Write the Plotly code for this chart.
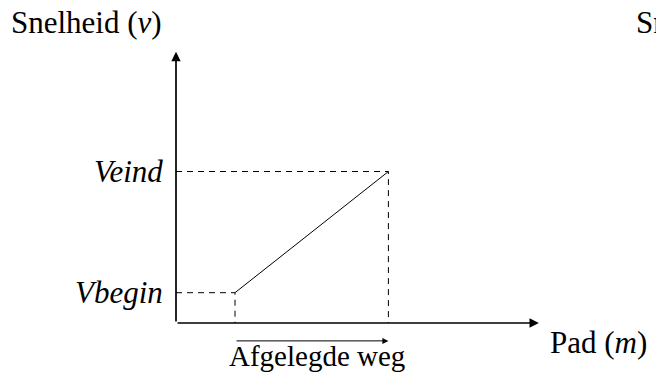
import plotly.graph_objects as go

# Data (schematic units)
x_path = [1.0, 3.6]          # start / end of distance travelled
v_vals = [1.0, 5.0]          # Vbegin / Veind
v_labels = ["<i>Vbegin</i>", "<i>Veind</i>"]
x_axis_len = 6.15
y_axis_len = 8.95

W, H = 656, 373
ox, oy = 176, 323            # pixel position of origin
ux, uy = 59.0, 30.3          # pixels per unit

xr = [-ox / ux, (W - ox) / ux]
yr = [-(H - oy) / uy, oy / uy]

FONT = "Liberation Serif"
FS = 31
black = "#000000"

fig = go.Figure()

# main line
fig.add_trace(go.Scatter(x=x_path, y=v_vals, mode="lines",
                         line=dict(color=black, width=1), hoverinfo="skip"))
# dashed guides
for xv, yv in zip(x_path, v_vals):
    fig.add_trace(go.Scatter(x=[0, xv, xv], y=[yv, yv, 0], mode="lines",
                             line=dict(color=black, width=1, dash="6px,5px"),
                             hoverinfo="skip"))

# axes with arrows
fig.add_annotation(x=x_axis_len, y=0, ax=0, ay=0, xref="x", yref="y",
                   axref="x", ayref="y", showarrow=True, arrowhead=2,
                   arrowsize=1.1, arrowwidth=1.7, arrowcolor=black, text="")
fig.add_annotation(x=0, y=y_axis_len, ax=0, ay=0, xref="x", yref="y",
                   axref="x", ayref="y", showarrow=True, arrowhead=2,
                   arrowsize=1.1, arrowwidth=1.7, arrowcolor=black, text="")

# distance arrow below axis
fig.add_annotation(x=x_path[1], y=-0.59, ax=x_path[0], ay=-0.59, xref="x", yref="y",
                   axref="x", ayref="y", showarrow=True, arrowhead=2,
                   arrowsize=1.2, arrowwidth=1, arrowcolor=black, text="")

font = dict(family=FONT, size=FS, color=black)

for lab, yv in zip(v_labels, v_vals):
    fig.add_annotation(x=0, y=yv, xref="x", yref="y", text=lab, showarrow=False,
                       xanchor="right", yanchor="middle", xshift=-11, font=font)

fig.add_annotation(x=(x_path[0] + x_path[1]) / 2, y=-1.1, xref="x", yref="y",
                   text="Afgelegde weg", showarrow=False, xanchor="center",
                   yanchor="middle", xshift=5,
                   font=dict(family=FONT, size=29, color=black))

fig.add_annotation(x=548 / W, y=1 - 342 / H, xref="paper", yref="paper",
                   text="Pad (<i>m</i>)", showarrow=False, xanchor="left",
                   yanchor="middle", font=font)

fig.add_annotation(x=9 / W, y=1 - 22 / H, xref="paper", yref="paper",
                   text="Snelheid (<i>v</i>)", showarrow=False, xanchor="left",
                   yanchor="middle", font=font)
fig.add_annotation(x=634 / W, y=1 - 22 / H, xref="paper", yref="paper",
                   text="Snelheid (<i>v</i>)", showarrow=False, xanchor="left",
                   yanchor="middle", font=font)

fig.update_xaxes(range=xr, visible=False, fixedrange=True)
fig.update_yaxes(range=yr, visible=False, fixedrange=True)
fig.update_layout(width=W, height=H, margin=dict(l=0, r=0, t=0, b=0),
                  paper_bgcolor="white", plot_bgcolor="white", showlegend=False)

fig.write_html("out.html", config={"displayModeBar": False},
               post_script="document.body.style.margin='0';document.body.style.overflow='hidden';")
